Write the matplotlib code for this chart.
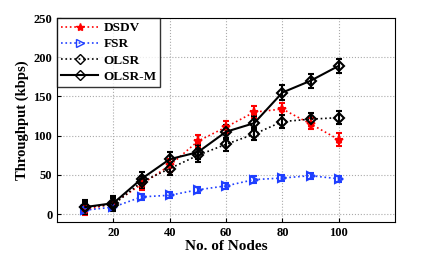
import numpy as np
import matplotlib.pyplot as plt
from matplotlib.lines import Line2D

plt.rcParams['font.family'] = 'Liberation Serif'
plt.rcParams['font.weight'] = 'bold'

nodes = [10, 20, 30, 40, 50, 60, 70, 80, 90, 100]

dsdv = [5, 14, 38, 62, 93, 111, 130, 134, 115, 95]
dsdv_err = [6, 7, 7, 8, 8, 8, 8, 8, 7, 8]

fsr = [5, 9, 22, 24, 31, 36, 44, 46, 49, 45]
fsr_err = [3, 3, 4, 4, 4, 4, 4, 4, 4, 4]

olsr = [9, 12, 41, 58, 75, 89, 102, 118, 121, 123]
olsr_err = [7, 8, 8, 8, 8, 8, 8, 8, 8, 8]

olsr_m = [9, 14, 45, 70, 79, 105, 116, 155, 170, 189]
olsr_m_err = [9, 9, 9, 9, 9, 9, 9, 9, 9, 9]

fig = plt.figure(figsize=(4.36, 2.73), dpi=100)
ax = fig.add_axes([0.131, 0.187, 0.775, 0.747])

# (label, y, err, color, linestyle, linewidth, marker, markersize, facecolor)
series = [
    ('DSDV', dsdv, dsdv_err, 'red', ':', 1.2, '*', 6, 'red'),
    ('FSR', fsr, fsr_err, '#1f3fff', ':', 1.2, '>', 6, 'none'),
    ('OLSR', olsr, olsr_err, 'black', ':', 1.2, 'D', 5, 'none'),
    ('OLSR-M', olsr_m, olsr_m_err, 'black', '-', 1.5, 'D', 5, 'none'),
]

handles = []
for label, y, err, c, ls, lw, m, ms, fc in series:
    ax.errorbar(nodes, y, yerr=err, color=c, linestyle=ls, linewidth=lw,
                marker=m, markersize=ms, markerfacecolor=fc, markeredgewidth=1.5,
                capsize=2.5, elinewidth=1.5, capthick=1.5)
    handles.append(Line2D([], [], color=c, linestyle=ls, linewidth=lw, marker=m,
                          markersize=ms, markerfacecolor=fc, markeredgewidth=1.0,
                          label=label))

ax.set_xlim(0, 120)
ax.set_ylim(-10, 250)
ax.set_xticks([20, 40, 60, 80, 100])
ax.set_yticks([0, 50, 100, 150, 200, 250])
ax.tick_params(direction='in', labelsize=9, length=3)
ax.grid(True, linestyle=':', color='#aaaaaa', linewidth=0.8)

ax.set_xlabel('No. of Nodes', fontsize=11, fontweight='bold', labelpad=1)
ax.set_ylabel('Throughput (kbps)', fontsize=10.5, fontweight='bold', labelpad=3)

leg = ax.legend(handles=handles, loc='upper left', fontsize=9.5, frameon=True,
                fancybox=False, edgecolor='black', borderaxespad=0,
                handlelength=2.8, labelspacing=0.3, borderpad=0.3,
                handletextpad=0.4)
leg.get_frame().set_linewidth(1.0)

plt.savefig('out.png', dpi=100)
